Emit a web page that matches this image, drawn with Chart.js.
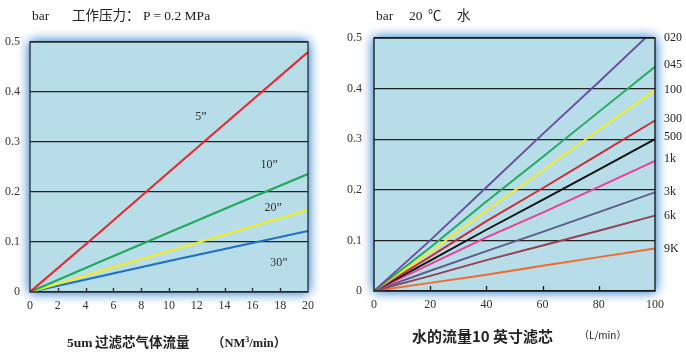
<!DOCTYPE html>
<html>
<head>
<meta charset="utf-8">
<script src="https://cdn.jsdelivr.net/npm/chart.js@4.4.1/dist/chart.umd.min.js"></script>
<style>
  html, body { margin: 0; padding: 0; background: #fff; }
  #wrap { position: relative; width: 686px; height: 355px; overflow: hidden; }
  .cv { position: absolute; top: 0; }
  .t { position: absolute; white-space: pre; color: #222; line-height: 1; }
  .serif { font-family: "Liberation Serif", "Noto Sans CJK SC", serif; }
  .cjk { font-family: "Noto Sans CJK SC", sans-serif; }
</style>
</head>
<body>
<div id="wrap">
  <canvas id="c1" class="cv" width="343" height="355" style="left:0px"></canvas>
  <canvas id="c2" class="cv" width="343" height="355" style="left:343px"></canvas>

  <div class="t serif" style="left:32px; top:9px; font-size:13.5px;">bar</div>
  <div class="t cjk" style="left:72px; top:8px; font-size:13.5px;">工作压力：</div>
  <div class="t serif" style="left:143px; top:9px; font-size:13.5px;">P = 0.2 MPa</div>

  <div class="t serif" style="left:376px; top:9px; font-size:13.5px;">bar</div>
  <div class="t serif" style="left:409px; top:9px; font-size:13.5px;">20</div>
  <div class="t cjk" style="left:428px; top:8px; font-size:13.5px;">℃</div>
  <div class="t cjk" style="left:457px; top:8px; font-size:13.5px;">水</div>

  <div class="t serif" style="left:67px; top:336px; font-size:13.5px; font-weight:bold;">5um</div>
  <div class="t cjk" style="left:95px; top:335px; font-size:13.5px; font-weight:bold;">过滤芯气体流量</div>
  <div class="t serif" style="left:212px; top:336px; font-size:12.5px; font-weight:bold;">（NM<sup style="font-size:8px">3</sup>/min）</div>

  <div class="t cjk" style="left:412px; top:328px; font-size:15px; font-weight:bold;">水的流量10 英寸滤芯</div>
  <div class="t cjk" style="left:579px; top:330px; font-size:10px;">（L/min）</div>
</div>
<script>
// ---------- data: left chart (air, 5um filter) ----------
const leftX = [0, 5, 10, 15, 20];
const left5in = [0, 0.119, 0.240, 0.360, 0.480];
const left10in = [0, 0.060, 0.119, 0.178, 0.236];
const left20in = [0, 0.041, 0.082, 0.123, 0.164];
const left30in = [0, 0.031, 0.062, 0.092, 0.122];
const leftNames = ['5”', '10”', '20”', '30”'];
const leftXTicks = [0, 2, 4, 6, 8, 10, 12, 14, 16, 18, 20];
const yTicks = [0, 0.1, 0.2, 0.3, 0.4, 0.5];

// ---------- data: right chart (water, 10 inch) ----------
const rightX = [0, 20, 40, 60, 80, 100];
const s020 = [0, 0.100, 0.205, 0.310, 0.413, 0.518];
const s045 = [0, 0.086, 0.177, 0.265, 0.354, 0.443];
const s100 = [0, 0.077, 0.159, 0.238, 0.318, 0.397];
const s300 = [0, 0.068, 0.138, 0.203, 0.270, 0.337];
const s500 = [0, 0.060, 0.121, 0.180, 0.240, 0.300];
const s1k = [0, 0.053, 0.106, 0.155, 0.206, 0.257];
const s3k = [0, 0.040, 0.079, 0.117, 0.156, 0.195];
const s6k = [0, 0.030, 0.061, 0.090, 0.119, 0.149];
const s9k = [0, 0.016, 0.032, 0.050, 0.067, 0.084];
const rightNames = ['020', '045', '100', '300', '500', '1k', '3k', '6k', '9K'];
const rightXTicks = [0, 20, 40, 60, 80, 100];

// ---------- styling ----------
const leftColors = ['#e8262e', '#1faa5a', '#f2ee1e', '#1f6fc4'];
const rightColors = ['#6a4ca0', '#1faa5a', '#f2ee1e', '#cc2a33', '#111111', '#ee3d96', '#5e5a8c', '#954050', '#f26a2a'];
// label anchors (data coords) for the left chart's inline curve labels
const leftLabelAt = [[12.3, 0.35], [17.2, 0.254], [17.5, 0.168], [17.9, 0.058]];

function pts(xs, ys) { return xs.map((x, i) => ({ x: x, y: ys[i] })); }

const frame = (gridColor, tickLen) => ({
  id: 'frame',
  beforeDraw(chart) {
    const { ctx, chartArea: a } = chart;
    ctx.save();
    ctx.shadowColor = 'rgba(80,150,215,0.95)';
    ctx.shadowBlur = 11;
    ctx.fillStyle = '#b7dde8';
    ctx.fillRect(a.left, a.top, a.right - a.left, a.bottom - a.top);
    ctx.fillRect(a.left, a.top, a.right - a.left, a.bottom - a.top);
    ctx.shadowBlur = 0;
    ctx.fillRect(a.left, a.top, a.right - a.left, a.bottom - a.top);
    ctx.restore();
  },
  afterDraw(chart) {
    const { ctx, chartArea: a } = chart;
    const xs = chart.scales.x;
    ctx.save();
    ctx.strokeStyle = gridColor;
    ctx.lineWidth = 1.3;
    ctx.strokeRect(a.left, a.top, a.right - a.left, a.bottom - a.top);
    ctx.beginPath();
    xs.ticks.forEach(t => {
      if (t.value === xs.min || t.value === xs.max) return;
      const px = Math.round(xs.getPixelForValue(t.value)) + 0.5;
      ctx.moveTo(px, a.bottom);
      ctx.lineTo(px, a.bottom - tickLen);
    });
    ctx.stroke();
    ctx.restore();
  }
});

function baseOptions(xMax, xTicks, yPad, xPadRight, topPad, yW, xH) {
  return {
    responsive: false,
    animation: false,
    devicePixelRatio: 1,
    layout: { padding: { left: 0, right: xPadRight, top: topPad, bottom: 0 } },
    plugins: { legend: { display: false }, tooltip: { enabled: false } },
    elements: { point: { radius: 0 }, line: { tension: 0, borderWidth: 2.1 } },
    scales: {
      x: {
        type: 'linear', min: 0, max: xMax,
        afterBuildTicks: s => { s.ticks = xTicks.map(v => ({ value: v })); },
        afterFit: s => { s.height = xH; },
        grid: { display: false, drawTicks: false },
        border: { display: false },
        ticks: { padding: 7, color: '#333', font: { family: 'Liberation Serif', size: 12 }, maxRotation: 0, autoSkip: false }
      },
      y: {
        min: 0, max: 0.5,
        afterBuildTicks: s => { s.ticks = yTicks.map(v => ({ value: v })); },
        afterFit: s => { s.width = yW; },
        grid: { color: '#222', lineWidth: 1.2, drawTicks: false },
        border: { display: false },
        ticks: { padding: yPad, color: '#333', font: { family: 'Liberation Serif', size: 12 },
                 callback: v => String(Number(v.toFixed(1))) }
      }
    }
  };
}

// ---------- left chart ----------
const leftSeries = [left5in, left10in, left20in, left30in];
const leftLabels = {
  id: 'leftLabels',
  afterDraw(chart) {
    const { ctx } = chart;
    const xs = chart.scales.x, ys = chart.scales.y;
    ctx.save();
    ctx.fillStyle = '#333';
    ctx.font = '12px "Liberation Serif"';
    ctx.textAlign = 'center';
    ctx.textBaseline = 'middle';
    leftNames.forEach((n, i) => {
      ctx.fillText(n, xs.getPixelForValue(leftLabelAt[i][0]), ys.getPixelForValue(leftLabelAt[i][1]));
    });
    ctx.restore();
  }
};
new Chart(document.getElementById('c1'), {
  type: 'line',
  data: {
    datasets: leftSeries.map((s, i) => ({
      label: leftNames[i], data: pts(leftX, s), borderColor: leftColors[i]
    }))
  },
  options: baseOptions(20, leftXTicks, 10, 35, 42, 30, 63),
  plugins: [frame('#2a2a2a', 4), leftLabels]
});

// ---------- right chart ----------
const rightSeries = [s020, s045, s100, s300, s500, s1k, s3k, s6k, s9k];
const rightLabels = {
  id: 'rightLabels',
  afterDraw(chart) {
    const { ctx, chartArea: a } = chart;
    const ys = chart.scales.y;
    ctx.save();
    ctx.fillStyle = '#222';
    ctx.font = '12px "Liberation Serif"';
    ctx.textAlign = 'left';
    ctx.textBaseline = 'middle';
    const nudge = [0, -2, 0, -2, -2, -2, 0, 0, 0];
    rightNames.forEach((n, i) => {
      const s = rightSeries[i];
      const v = Math.min(s[s.length - 1], 0.5);
      ctx.fillText(n, a.right + 9, ys.getPixelForValue(v) + nudge[i]);
    });
    ctx.restore();
  }
};
new Chart(document.getElementById('c2'), {
  type: 'line',
  data: {
    datasets: rightSeries.map((s, i) => ({
      label: rightNames[i], data: pts(rightX, s), borderColor: rightColors[i], borderWidth: 1.9
    }))
  },
  options: baseOptions(100, rightXTicks, 12, 31, 38, 31, 64),
  plugins: [frame('#111', 5), rightLabels]
});
</script>
</body>
</html>
